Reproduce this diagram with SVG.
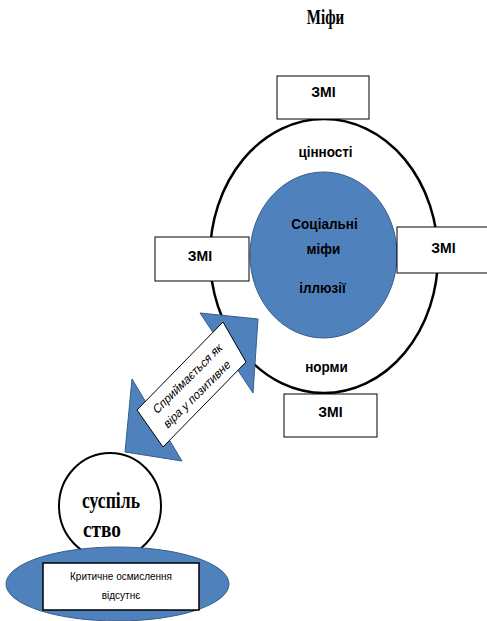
<svg xmlns="http://www.w3.org/2000/svg" width="487" height="621" viewBox="0 0 487 621">
<style>
.box{fill:#fff;stroke:#000;stroke-width:1}
.blue{fill:#4F81BD;stroke:#385D8A;stroke-width:1}
.sb{font-family:"Liberation Sans",Arial,sans-serif;font-weight:bold;fill:#000;text-anchor:middle}
.sr{font-family:"Liberation Sans",Arial,sans-serif;fill:#000;text-anchor:middle}
.serif{font-family:"Liberation Serif","Times New Roman",serif;font-weight:bold;fill:#000}
</style>
<rect x="0" y="0" width="487" height="621" fill="#fff"/>
<g id="title">
<text class="serif" font-size="15" text-anchor="middle" transform="translate(325.5,24) scale(1,1.35)">Міфи</text>
</g>
<g id="outer">
<ellipse cx="324" cy="256" rx="114" ry="137" fill="none" stroke="#000" stroke-width="2.5"/>
<text class="sb" font-size="13.5" transform="translate(325.5,157) scale(1,1.15)">цінності</text>
<text class="sb" font-size="13.5" transform="translate(326.5,372) scale(1,1.15)">норми</text>
</g>
<g id="core">
<ellipse class="blue" cx="323.5" cy="255" rx="73.5" ry="83"/>
<text class="sb" font-size="13.5" transform="translate(324.5,229) scale(1,1.15)">Соціальні</text>
<text class="sb" font-size="13.5" transform="translate(323.5,254) scale(1,1.15)">міфи</text>
<text class="sb" font-size="13.5" transform="translate(322.5,293) scale(1,1.15)">іллюзії</text>
</g>
<g id="zmi-top">
<rect class="box" x="277" y="76" width="92" height="43"/>
<text class="sb" font-size="14" transform="translate(323.5,97) scale(1,1.1)">ЗМІ</text>
</g>
<g id="zmi-left">
<rect class="box" x="155" y="237" width="94" height="44"/>
<text class="sb" font-size="14" transform="translate(200,261) scale(1,1.1)">ЗМІ</text>
</g>
<g id="zmi-right">
<rect class="box" x="397" y="227" width="94" height="46"/>
<text class="sb" font-size="14" transform="translate(443.5,253) scale(1,1.1)">ЗМІ</text>
</g>
<g id="zmi-bottom">
<rect class="box" x="284" y="394" width="93" height="43"/>
<text class="sb" font-size="14" transform="translate(330.5,417) scale(1,1.1)">ЗМІ</text>
</g>
<g id="society">
<ellipse cx="110" cy="506" rx="51" ry="53" fill="#fff" stroke="#000" stroke-width="2"/>
<text class="serif" font-size="16" textLength="58" lengthAdjust="spacingAndGlyphs" transform="translate(82,508) scale(1,1.4)">суспіль</text>
<text class="serif" font-size="16" textLength="38" lengthAdjust="spacingAndGlyphs" transform="translate(83,537) scale(1,1.4)">ство</text>
</g>
<g id="critical">
<ellipse class="blue" cx="117.5" cy="584" rx="111.5" ry="37"/>
<rect x="43" y="563" width="156" height="47" fill="#fff" stroke="#000" stroke-width="1.5"/>
<text class="sr" font-size="10" transform="translate(121,580) scale(1,1.1)">Критичне осмислення</text>
<text class="sr" font-size="10" transform="translate(121,599) scale(1,1.1)">відсутнє</text>
</g>
<g id="connectors">
<polygon class="blue" points="258,319 253,393 237,369 167,436 182,461 125,452 132,379 147,404 216,337 200,313"/>
<polygon points="223,322 246,362 163,447 137,410" fill="#fff" stroke="#000" stroke-width="1"/>
<g transform="translate(192.5,386.5) scale(1,1.27) rotate(-38)">
<text class="sr" font-size="10.5" x="0" y="-4.5">Сприймається як</text>
<text class="sr" font-size="10.5" x="0" y="11">віра у позитивне</text>
</g>
</g>
</svg>
